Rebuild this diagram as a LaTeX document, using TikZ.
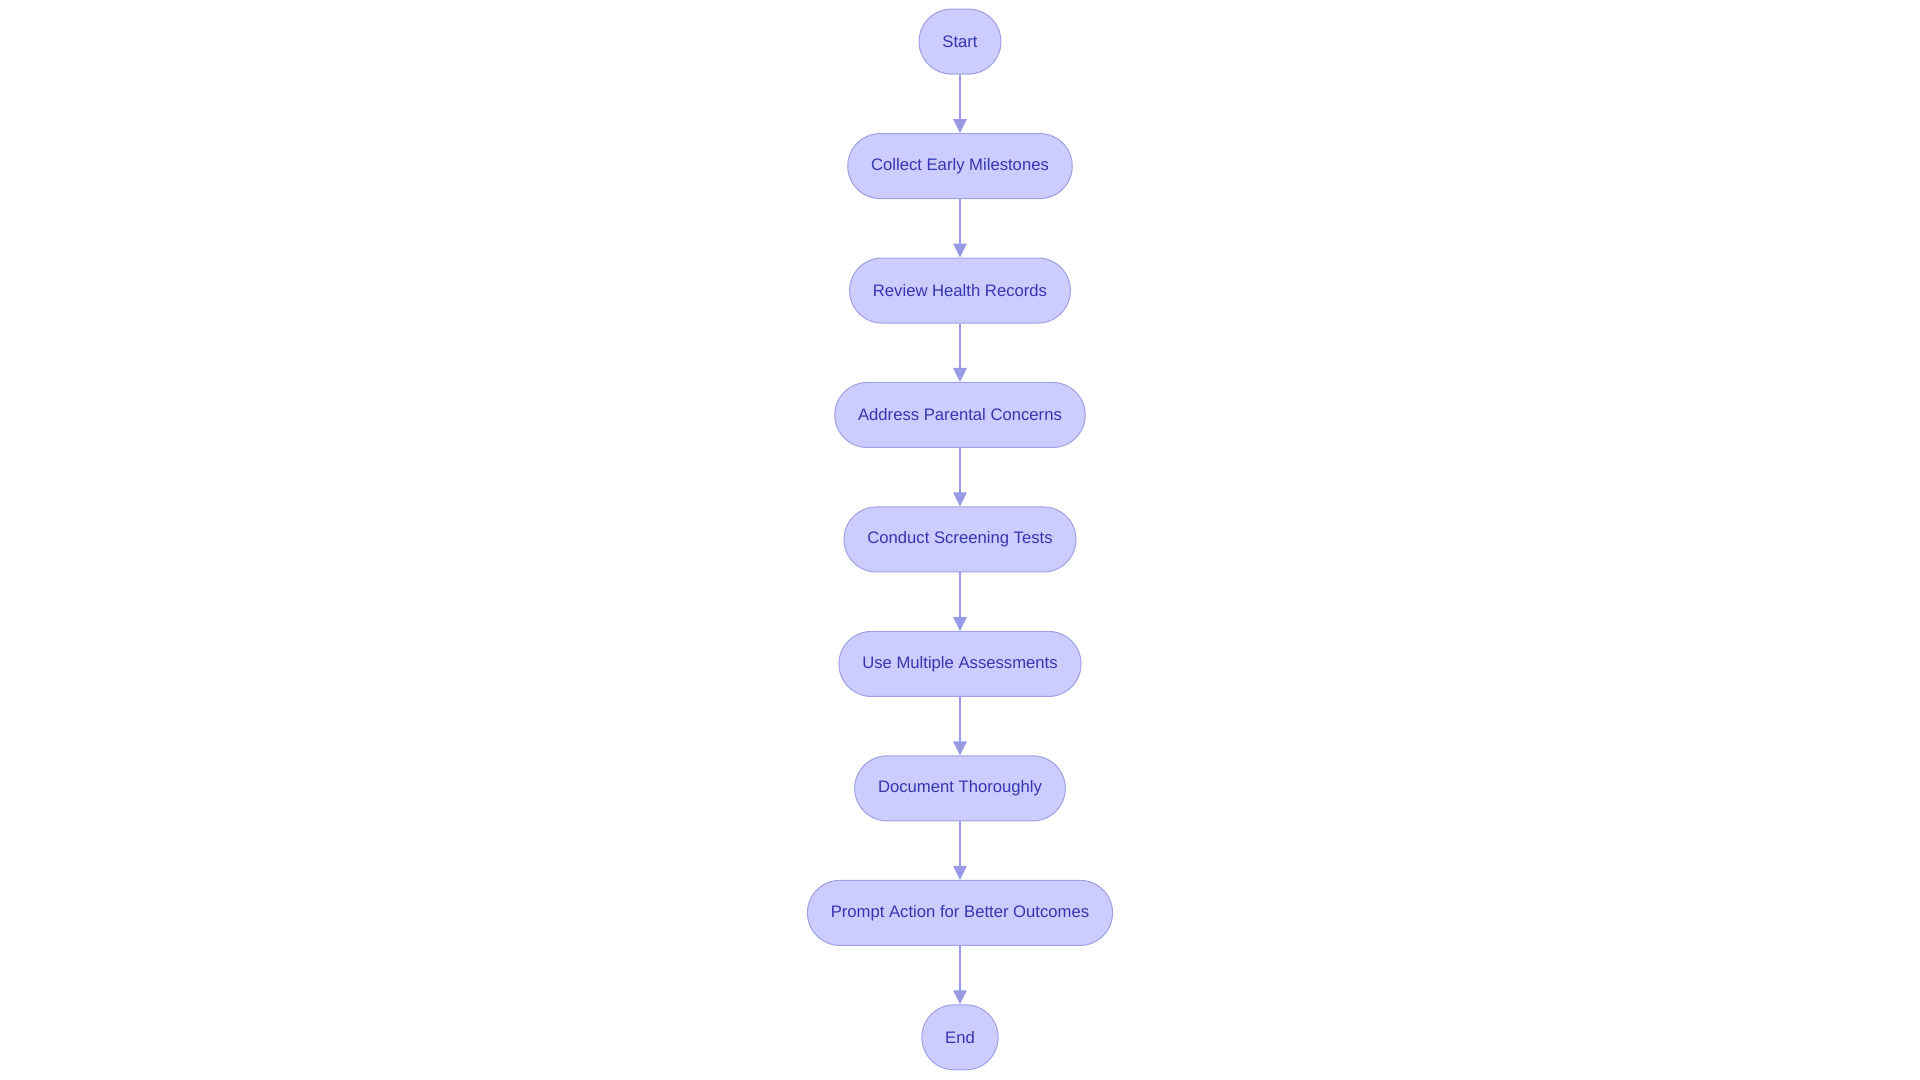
\documentclass[tikz,border=0pt]{standalone}
\usepackage{fontspec}
\setmainfont{Liberation Sans}
\usepackage{tikz}
\usetikzlibrary{positioning}
\usetikzlibrary{arrows.meta}

\definecolor{stagefill}{HTML}{CCCCFF}
\definecolor{stageline}{HTML}{A0A0E4}
\definecolor{flowline}{HTML}{989AE6}
\definecolor{stagetext}{HTML}{3636B0}

\begin{document}
\begin{tikzpicture}[node distance=43.85pt,
	stage/.style={rectangle, rounded corners=24.3pt, draw=stageline, line width=0.75pt,
		fill=stagefill, text=stagetext, font=\fontsize{12.5pt}{14pt}\selectfont,
		minimum height=48.75pt, inner xsep=17.5pt},
	flow/.style={-{Triangle[width=10pt,length=10.5pt]}, draw=flowline, line width=1.5pt}]
	\useasboundingbox (-720pt,31.2pt) rectangle (720pt,-778.8pt);
	\node[stage] (start) {Start};
	\node[stage, below=of start] (milestones) {Collect Early Milestones};
	\node[stage, below=of milestones] (records) {Review Health Records};
	\node[stage, below=of records] (concerns) {Address Parental Concerns};
	\node[stage, below=of concerns] (screening) {Conduct Screening Tests};
	\node[stage, below=of screening] (assess) {Use Multiple Assessments};
	\node[stage, below=of assess] (document) {Document Thoroughly};
	\node[stage, below=of document] (action) {Prompt Action for Better Outcomes};
	\node[stage, below=of action] (end) {End};
	% arrows between stages
	\foreach \a/\b in {start/milestones, milestones/records, records/concerns,
		concerns/screening, screening/assess, assess/document, document/action, action/end}
		\draw[flow] (\a) -- (\b);
\end{tikzpicture}
\end{document}
